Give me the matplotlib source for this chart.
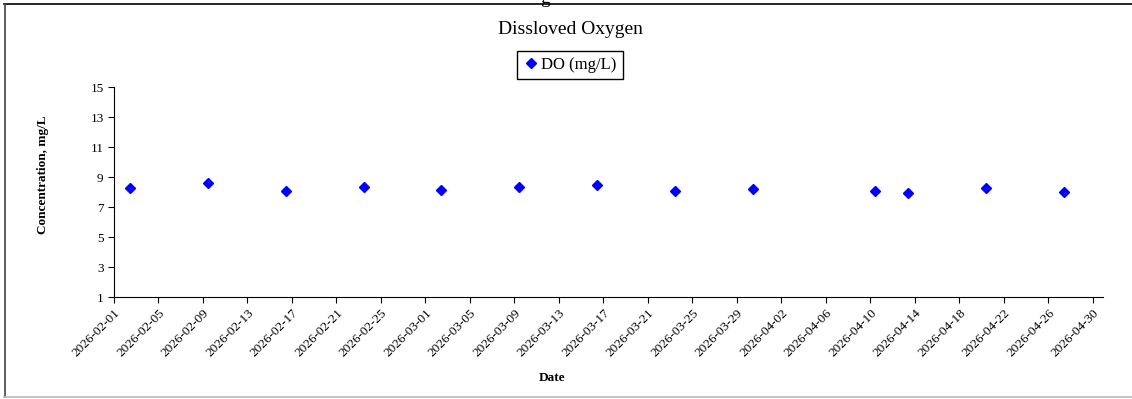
import matplotlib
matplotlib.use("Agg")
import matplotlib.pyplot as plt
import matplotlib.dates as mdates
from matplotlib.lines import Line2D
import pandas as pd

# sample dates (weekly grab samples) and DO readings
sample_dates = ["2026-02-02 10:30", "2026-02-09 10:45", "2026-02-16 11:00",
                "2026-02-23 11:15", "2026-03-02 10:00", "2026-03-09 10:00",
                "2026-03-16 10:00", "2026-03-23 10:00", "2026-03-30 10:00",
                "2026-04-10 10:00", "2026-04-13 10:00", "2026-04-20 10:00",
                "2026-04-27 10:00"]
do_values = [8.25, 8.62, 8.07, 8.31, 8.13, 8.36, 8.45, 8.10, 8.18,
             8.07, 7.91, 8.26, 8.02]
y_ticks = [1, 3, 5, 7, 9, 11, 13, 15]

dates = pd.to_datetime(sample_dates)

plt.rcParams['font.family'] = ['Liberation Serif', 'DejaVu Serif']

W, H = 1132, 399
fig = plt.figure(figsize=(W / 100, H / 100), dpi=100)
ax = fig.add_axes([114 / W, 1 - 297 / H, (1103 - 114) / W, (297 - 87) / H])

ax.plot(dates, do_values, linestyle='none', marker='D', markersize=5.6,
        color='#0000ff', label='DO (mg/L)')

ax.set_ylim(1, 15)
ax.set_yticks(y_ticks)
ax.set_xlim(pd.Timestamp("2026-02-01"), pd.Timestamp("2026-04-30 22:00"))
ticks = pd.date_range("2026-02-01", "2026-04-30", freq="4D")
ax.set_xticks(ticks)
ax.xaxis.set_major_formatter(mdates.DateFormatter('%Y-%m-%d'))
plt.setp(ax.get_xticklabels(), rotation=45, ha='right', rotation_mode='anchor')

ax.spines['top'].set_visible(False)
ax.spines['right'].set_visible(False)
ax.tick_params(axis='both', labelsize=9.5, length=4, width=0.8, direction='out')
ax.tick_params(axis='x', pad=3)

# title, axis titles and legend placed like the spreadsheet chart
fig.text(570 / W, 1 - 29 / H, 'Dissloved Oxygen', fontsize=14, ha='center', va='center')
fig.text(43 / W, 1 - 175 / H, 'Concentration, mg/L', fontsize=9.5, fontweight='bold',
         rotation=90, ha='center', va='center')
fig.text(552 / W, 1 - 378 / H, 'Date', fontsize=9.5, fontweight='bold',
         ha='center', va='center')

leg = fig.legend(loc='center', bbox_to_anchor=(570 / W, 1 - 65 / H), fontsize=12,
                 handletextpad=0.1, handlelength=1.0, borderpad=0.35,
                 fancybox=False, framealpha=1, edgecolor='black')
leg.get_frame().set_linewidth(1.0)

# clipped descender of the heading above the chart
fig.text(545 / W, 1 - 3 / H, 'g', ha='center', va='baseline', fontsize=14)

# frame of the chart area
fig.add_artist(Line2D([4 / W, 1], [1 - 4 / H, 1 - 4 / H], color='black', lw=1.2))
fig.add_artist(Line2D([4.5 / W, 4.5 / W], [2 / H, 1 - 4 / H], color='#444444', lw=1.2))
fig.add_artist(Line2D([4 / W, 1], [2 / H, 2 / H], color='#bbbbbb', lw=1.2))

fig.savefig('out.png', dpi=100)
